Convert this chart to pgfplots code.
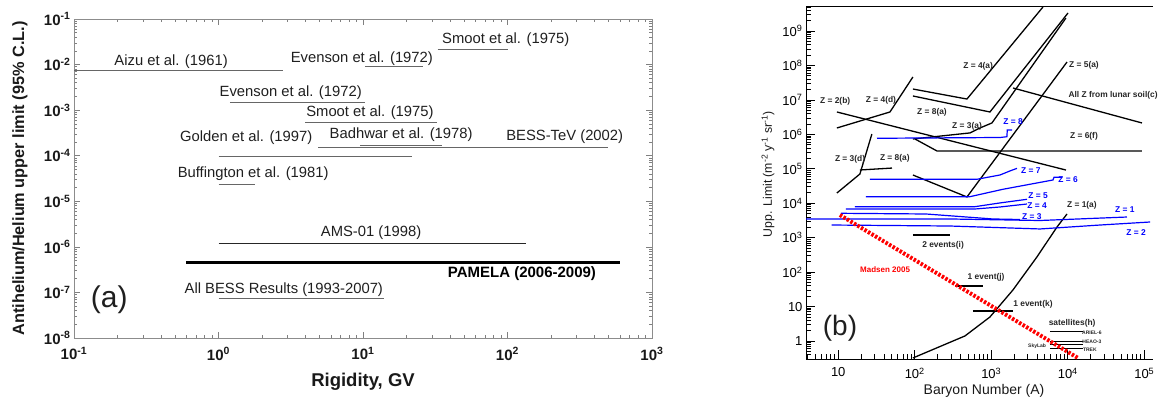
\documentclass[border=0pt]{standalone}
\usepackage{fontspec}
\setmainfont{Liberation Sans}
\usepackage{pgfplots}
\pgfplotsset{compat=1.18}
\newcommand{\bt}[1]{\textbf{10\textsuperscript{#1}}}
\newcommand{\tn}[1]{10\textsuperscript{#1}}
\tikzset{
  aline/.style={black!60, line width=1pt},
  lab/.style={font=\fontsize{14.8}{16}\selectfont, text=black!88},
  bl/.style={black, line width=1.3pt},
  bu/.style={blue, line width=1.2pt},
  lb/.style={font=\fontsize{8.4}{9}\selectfont\bfseries, text=black!85},
  lu/.style={font=\fontsize{8.4}{9}\selectfont\bfseries, text=blue},
  ls/.style={font=\fontsize{5}{6}\selectfont\bfseries, text=black!85},
}
\begin{document}
\begin{tikzpicture}
\useasboundingbox (0,0) rectangle (1159pt,399pt);
% ---------------- panel (a)
\begin{axis}[
  at={(74pt,61pt)}, anchor=south west, scale only axis,
  width=578pt, height=319pt,
  xmode=log, ymode=log, xmin=0.1, xmax=1000, ymin=1e-8, ymax=0.1,
  clip=false,
  axis line style={black!45, line width=0.6pt},
  tick align=inside,
  major tick length=6pt, minor tick length=3pt,
  tick style={black!50, line width=0.6pt},
  xtick={0.1,1,10,100,1000},
  xticklabels={\bt{-1},\bt{0},\bt{1},\bt{2},\bt{3}},
  minor xtick={0.2,0.3,0.4,0.5,0.6,0.7,0.8,0.9,2,3,4,5,6,7,8,9,20,30,40,50,60,70,80,90,200,300,400,500,600,700,800,900},
  ytick={1e-8,1e-7,1e-6,1e-5,1e-4,1e-3,1e-2,1e-1},
  yticklabels={\bt{-8},\bt{-7},\bt{-6},\bt{-5},\bt{-4},\bt{-3},\bt{-2},\bt{-1}},
  minor ytick={2e-8,3e-8,4e-8,5e-8,6e-8,7e-8,8e-8,9e-8,
               2e-7,3e-7,4e-7,5e-7,6e-7,7e-7,8e-7,9e-7,
               2e-6,3e-6,4e-6,5e-6,6e-6,7e-6,8e-6,9e-6,
               2e-5,3e-5,4e-5,5e-5,6e-5,7e-5,8e-5,9e-5,
               2e-4,3e-4,4e-4,5e-4,6e-4,7e-4,8e-4,9e-4,
               2e-3,3e-3,4e-3,5e-3,6e-3,7e-3,8e-3,9e-3,
               2e-2,3e-2,4e-2,5e-2,6e-2,7e-2,8e-2,9e-2},
  ticklabel style={font=\fontsize{15}{15}\selectfont, text=black!90},
  xticklabel style={yshift=-6pt},
  ]
\addplot[aline] coordinates {(0.1,7.35e-3) (2.78,7.35e-3)};
\addplot[aline] coordinates {(10.3,8.97e-3) (25.9,8.97e-3)};
\addplot[aline] coordinates {(32.9,0.0209) (100,0.0209)};
\addplot[aline] coordinates {(1.2,1.49e-3) (10.3,1.49e-3)};
\addplot[aline] coordinates {(3.97,5.4e-4) (32.7,5.4e-4)};
\addplot[aline] coordinates {(9.5,1.69e-4) (35.4,1.69e-4)};
\addplot[aline] coordinates {(4.9,1.5e-4) (499,1.5e-4)};
\addplot[aline] coordinates {(1,9.5e-5) (22,9.5e-5)};
\addplot[aline] coordinates {(1,2.37e-5) (1.8,2.37e-5)};
\addplot[black!85, line width=1pt] coordinates {(1,1.17e-6) (135,1.17e-6)};
\addplot[black, line width=2.8pt] coordinates {(0.6,4.6e-7) (600,4.6e-7)};
\addplot[aline] coordinates {(1,7.2e-8) (14,7.2e-8)};
\node[lab] at (rel axis cs:0.168,0.867) {Aizu et al. (1961)};
\node[lab] at (rel axis cs:0.498,0.876) {Evenson et al. (1972)};
\node[lab] at (rel axis cs:0.747,0.934) {Smoot et al. (1975)};
\node[lab] at (rel axis cs:0.375,0.770) {Evenson et al. (1972)};
\node[lab] at (rel axis cs:0.512,0.707) {Smoot et al. (1975)};
\node[lab] at (rel axis cs:0.566,0.636) {Badhwar et al. (1978)};
\node[lab] at (rel axis cs:0.849,0.632) {BESS-TeV (2002)};
\node[lab] at (rel axis cs:0.298,0.627) {Golden et al. (1997)};
\node[lab] at (rel axis cs:0.310,0.514) {Buffington et al. (1981)};
\node[lab] at (rel axis cs:0.514,0.329) {AMS-01 (1998)};
\node[lab, font=\fontsize{15}{16}\selectfont\bfseries, text=black] at (rel axis cs:0.775,0.201) {PAMELA (2006-2009)};
\node[lab] at (rel axis cs:0.363,0.150) {All BESS Results (1993-2007)};
\node[font=\fontsize{30}{32}\selectfont, text=black!88] at (rel axis cs:0.061,0.119) {(a)};
\end{axis}
\node[rotate=90, font=\fontsize{16.3}{17}\selectfont\bfseries, text=black!90] at (20pt,220.5pt) {Antihelium/Helium upper limit (95\% C.L.)};
\node[font=\fontsize{18.5}{19}\selectfont\bfseries, text=black!90] at (363pt,17.3pt) {Rigidity, GV};
% ---------------- panel (b)
\begin{axis}[
  at={(806pt,39.7pt)}, anchor=south west, scale only axis,
  width=347pt, height=353.3pt,
  xmode=log, ymode=log, xmin=3.79, xmax=1.3e5, ymin=0.294, ymax=5.33e9,
  clip=false,
  axis x line*=box, axis y line*=left,
  axis line style={black, line width=0.9pt},
  tick align=inside,
  xtick pos=left, ytick pos=left,
  major tick length=9pt, minor tick length=5pt,
  tick style={black, line width=0.8pt},
  xtick={10,100,1000,10000,100000},
  xticklabels={10,\tn{2},\tn{3},\tn{4},\tn{5}},
  minor xtick={4,5,6,7,8,9,20,30,40,50,60,70,80,90,200,300,400,500,600,700,800,900,
               2000,3000,4000,5000,6000,7000,8000,9000,2e4,3e4,4e4,5e4,6e4,7e4,8e4,9e4},
  ytick={1,10,100,1000,1e4,1e5,1e6,1e7,1e8,1e9},
  yticklabels={1,10,\tn{2},\tn{3},\tn{4},\tn{5},\tn{6},\tn{7},\tn{8},\tn{9}},
  minor ytick={0.3,0.4,0.5,0.6,0.7,0.8,0.9,2,3,4,5,6,7,8,9,
               20,30,40,50,60,70,80,90,200,300,400,500,600,700,800,900,
               2e3,3e3,4e3,5e3,6e3,7e3,8e3,9e3,2e4,3e4,4e4,5e4,6e4,7e4,8e4,9e4,
               2e5,3e5,4e5,5e5,6e5,7e5,8e5,9e5,2e6,3e6,4e6,5e6,6e6,7e6,8e6,9e6,
               2e7,3e7,4e7,5e7,6e7,7e7,8e7,9e7,2e8,3e8,4e8,5e8,6e8,7e8,8e8,9e8,
               2e9,3e9,4e9,5e9},
  ticklabel style={font=\fontsize{13}{13}\selectfont},
  xticklabel style={yshift=-5pt},
  ]
% black limits
\addplot[bl] coordinates {(9.6,4.46e6) (9460,9.2e4)};
\addplot[bl] coordinates {(9.6,1.53e6) (47.4,4.46e6) (94.6,4.63e7)};
\addplot[bl] coordinates {(9.6,1.98e4) (19.2,7.06e4) (27.5,1.02e6)};
\addplot[bl] coordinates {(19.2,9.23e4) (50.4,1.05e5)};
\addplot[bl] coordinates {(94.6,2.07e7) (481,1.06e7) (4740,4.99e9)};
\addplot[bl] coordinates {(94.6,1.3e7) (961,4.46e6) (10070,3.34e9)};
\addplot[bl] coordinates {(94.6,7.33e5) (527,1.1e6) (711,1.53e6) (1020,2.14e6) (9460,2.39e9)};
\addplot[bl] coordinates {(100.7,7.33e5) (195,3.29e5) (93300,3.29e5)};
\addplot[bl] coordinates {(94.6,6.6e4) (481,1.52e4) (9770,1.26e8)};
\addplot[bl] coordinates {(1920,2.22e7) (93300,2.14e6)};
\addplot[bl] coordinates {(94.6,0.321) (453,1.4) (961,4.98) (1920,30.3) (3950,275) (7230,2040) (9770,4870)};
\addplot[bl] coordinates {(94.6,1200) (288,1200)};
\addplot[bl] coordinates {(335,39.5) (778,39.5)};
\addplot[bl] coordinates {(577,7.43) (1920,7.43)};
\addplot[black, line width=1pt] coordinates {(5850,1.86) (15800,1.86)};
\addplot[black, line width=1pt] coordinates {(5850,0.955) (15800,0.955)};
\addplot[black, line width=1pt] coordinates {(5850,0.766) (15800,0.766)};
\addplot[black, line width=1pt] coordinates {(5850,0.586) (15800,0.586)};
% blue curves
\addplot[bu] coordinates {(32.1,7.69e5) (1300,8.1e5) (1600,8.52e5) (1620,1.34e6) (1870,1.34e6)};
\addplot[bu] coordinates {(25.9,4.96e4) (650,4.96e4) (1300,6.61e4) (1750,8.63e4) (2170,1.03e5)};
\addplot[bu] coordinates {(23,1.55e4) (527,1.55e4) (1420,2.54e4) (6410,4.73e4) (6600,5.66e4) (8400,5.66e4)};
\addplot[bu] coordinates {(16.5,7.94e3) (612,7.94e3) (1300,1.02e4) (2930,1.3e4)};
\addplot[bu] coordinates {(12.6,6.8e3) (612,6.8e3) (1300,7.78e3) (2930,9.5e3)};
\addplot[bu] coordinates {(10.8,5.1e3) (140,4.87e3) (1050,3.49e3) (2370,3.37e3)};
\addplot[bu] coordinates {(3.8,3.49e3) (288,3.49e3) (4340,3.15e3) (59400,3.98e3)};
\addplot[bu] coordinates {(8.2,2.33e3) (288,2.18e3) (4340,1.79e3) (26400,2.33e3) (1.19e5,2.85e3)};
% Madsen 2005
\addplot[red, line width=4pt, dash pattern=on 2.5pt off 1.6pt] coordinates {(10.5,4560) (13600,0.32)};
% labels
\node[lu] at (rel axis cs:0.597,0.672) {Z = 8};
\node[lu] at (rel axis cs:0.648,0.533) {Z = 7};
\node[lu] at (rel axis cs:0.755,0.508) {Z = 6};
\node[lu] at (rel axis cs:0.669,0.462) {Z = 5};
\node[lu] at (rel axis cs:0.666,0.434) {Z = 4};
\node[lu] at (rel axis cs:0.651,0.403) {Z = 3};
\node[lu] at (rel axis cs:0.919,0.423) {Z = 1};
\node[lu] at (rel axis cs:0.951,0.360) {Z = 2};
\node[lb] at (rel axis cs:0.084,0.730) {Z = 2(b)};
\node[lb] at (rel axis cs:0.216,0.732) {Z = 4(d)};
\node[lb] at (rel axis cs:0.127,0.567) {Z = 3(d)};
\node[lb] at (rel axis cs:0.256,0.569) {Z = 8(a)};
\node[lb] at (rel axis cs:0.363,0.699) {Z = 8(a)};
\node[lb] at (rel axis cs:0.464,0.660) {Z = 3(a)};
\node[lb] at (rel axis cs:0.496,0.828) {Z = 4(a)};
\node[lb] at (rel axis cs:0.801,0.833) {Z = 5(a)};
\node[lb] at (rel axis cs:0.885,0.746) {All Z from lunar soil(c)};
\node[lb] at (rel axis cs:0.801,0.630) {Z = 6(f)};
\node[lb] at (rel axis cs:0.795,0.437) {Z = 1(a)};
\node[lb] at (rel axis cs:0.395,0.324) {2 events(i)};
\node[lb] at (rel axis cs:0.519,0.233) {1 event(j)};
\node[lb] at (rel axis cs:0.654,0.157) {1 event(k)};
\node[lb] at (rel axis cs:0.767,0.103) {satellites(h)};
\node[ls] at (rel axis cs:0.824,0.076) {ARIEL-6};
\node[ls] at (rel axis cs:0.824,0.049) {HEAO-3};
\node[ls] at (rel axis cs:0.818,0.028) {TREK};
\node[ls] at (rel axis cs:0.666,0.038) {SkyLab};
\node[font=\fontsize{8}{9}\selectfont\bfseries, text=red] at (rel axis cs:0.228,0.255) {Madsen 2005};
\node[font=\fontsize{28}{30}\selectfont, text=black!88] at (rel axis cs:0.098,0.089) {(b)};
\end{axis}
\node[rotate=90, font=\fontsize{12.3}{13}\selectfont, text=black!90] at (768pt,225pt) {Upp. Limit (m\textsuperscript{-2} y\textsuperscript{-1} sr\textsuperscript{-1})};
\node[font=\fontsize{14}{15}\selectfont, text=black!90] at (984pt,8pt) {Baryon Number (A)};
\end{tikzpicture}
\end{document}
